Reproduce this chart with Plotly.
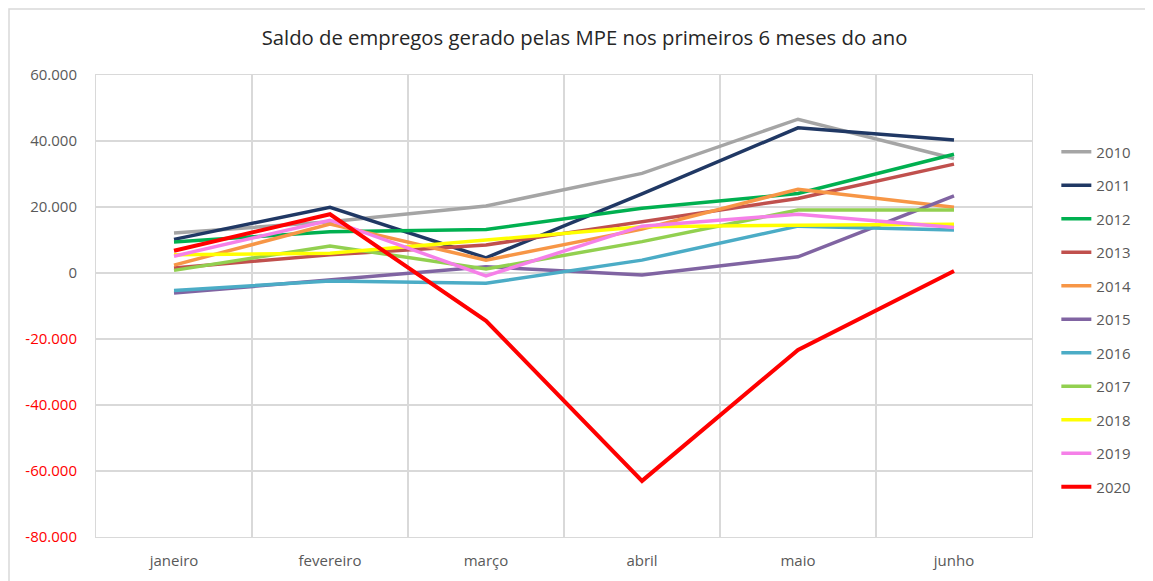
import plotly.graph_objects as go

months = ["janeiro", "fevereiro", "março", "abril", "maio", "junho"]
years = ["2010", "2011", "2012", "2013", "2014", "2015", "2016", "2017", "2018", "2019", "2020"]

s2010 = [12100, 15500, 20300, 30200, 46600, 34700]
s2011 = [10200, 19900, 4600, 24000, 44000, 40300]
s2012 = [9400, 12500, 13200, 19600, 24100, 36000]
s2013 = [1500, 5500, 8500, 15500, 22600, 33000]
s2014 = [2400, 14800, 3900, 13300, 25400, 19900]
s2015 = [-6100, -2200, 1900, -600, 4900, 23400]
s2016 = [-5300, -2400, -3100, 3900, 14200, 13000]
s2017 = [800, 8200, 1200, 9500, 19100, 19100]
s2018 = [5500, 6000, 10000, 14000, 14500, 14800]
s2019 = [5100, 16000, -900, 14200, 17800, 13800]
s2020 = [6750, 17800, -14500, -63000, -23300, 600]

series = [s2010, s2011, s2012, s2013, s2014, s2015, s2016, s2017, s2018, s2019, s2020]
colors = ["#A5A5A5", "#203864", "#00B050", "#C0504D", "#F79646", "#8064A2",
          "#4BACC6", "#92D050", "#FFFF00", "#F580E8", "#FF0000"]
widths = [3.5, 3.5, 3.5, 3.5, 3.5, 3.5, 3.5, 3.5, 3.5, 3.5, 4]

pos_vals = [60000, 40000, 20000, 0]
pos_text = ["60.000", "40.000", "20.000", "0"]
neg_vals = [-20000, -40000, -60000, -80000]
neg_text = ["-20.000", "-40.000", "-60.000", "-80.000"]

fig = go.Figure()
for yr, vals, c, w in zip(years, series, colors, widths):
    fig.add_trace(go.Scatter(x=months, y=vals, mode="lines", name=yr,
                             legendgroup=yr,
                             line=dict(color=c, width=w)))
# invisible helper trace to activate the red negative-tick axis
fig.add_trace(go.Scatter(x=months[:1], y=[0], yaxis="y2", mode="lines",
                         showlegend=False, hoverinfo="skip",
                         line=dict(color="rgba(0,0,0,0)")))

grid = "#D9D9D9"
W, H = 1145, 573
YR = [-80000, 60000]
fig.update_layout(
    width=W, height=H,
    margin=dict(l=88, r=121, t=67, b=44, autoexpand=False),
    paper_bgcolor="white", plot_bgcolor="white",
    font=dict(family="Open Sans", color="#595959", size=15),
    title=dict(text="Saldo de empregos gerado pelas MPE nos primeiros 6 meses do ano",
               x=0.5035, xanchor="center", y=0.948, yanchor="middle",
               font=dict(size=20.3, color="#262626", family="Open Sans")),
    showlegend=True,
    legend=dict(x=1.026, xanchor="left", y=0.869, yanchor="top",
                font=dict(size=15, color="#595959"),
                tracegroupgap=11, bgcolor="rgba(0,0,0,0)"),
    xaxis=dict(type="category", tickson="boundaries", range=[-0.5, 5.5],
               showgrid=True, gridcolor=grid, automargin=False,
               gridwidth=1.5, ticks="", ticklabelstandoff=10,
               showline=True, linecolor=grid, mirror=True, zeroline=False,
               tickfont=dict(size=15, color="#595959")),
    yaxis=dict(range=YR, tickvals=pos_vals + neg_vals, ticktext=pos_text + [""] * 4,
               showgrid=True, gridcolor=grid, gridwidth=1.5, zeroline=False,
               ticks="outside", ticklen=15, tickcolor="rgba(0,0,0,0)",
               showline=True, linecolor=grid, mirror=True, automargin=False,
               tickfont=dict(size=15, color="#595959")),
    yaxis2=dict(range=YR, overlaying="y", side="left", tickvals=neg_vals, ticktext=neg_text,
                showgrid=False, zeroline=False, showline=False, automargin=False,
                ticks="outside", ticklen=15, tickcolor="rgba(0,0,0,0)",
                tickfont=dict(size=15, color="#FF0000")),
)

# outer chart border (top, left, right)
fig.add_shape(type="path", xref="paper", yref="paper",
              path="M %f %f L %f %f L %f %f L %f %f" % (
                  (1 - 88) / 936, -44 / 462,
                  (1 - 88) / 936, (462 + 67 - 1) / 462,
                  (1140 - 88) / 936, (462 + 67 - 1) / 462,
                  (1140 - 88) / 936, -44 / 462),
              line=dict(color="#D9D9D9", width=1.5), layer="below")

fig.write_html("out.html")
